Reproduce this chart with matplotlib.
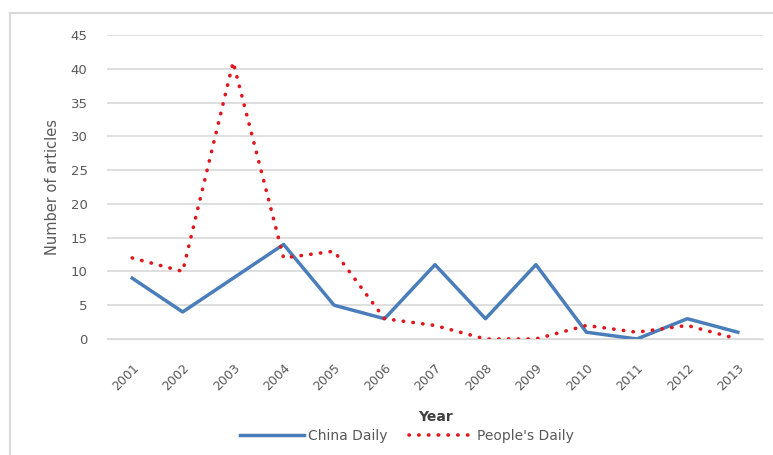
import matplotlib
matplotlib.use("Agg")
import matplotlib.pyplot as plt
from matplotlib.patches import Rectangle

# Article counts per year
years = ["2001", "2002", "2003", "2004", "2005", "2006", "2007",
         "2008", "2009", "2010", "2011", "2012", "2013"]
china_daily = [9, 4, 9, 14, 5, 3, 11, 3, 11, 1, 0, 3, 1]
peoples_daily = [12, 10, 41, 12, 13, 3, 2, 0, 0, 2, 1, 2, 0]

plt.rcParams['font.family'] = ['DejaVu Sans']

fig = plt.figure(figsize=(7.73, 4.55), dpi=100)
ax = fig.add_axes([0.1384, 0.255, 0.8487, 0.668])

# light frame around the whole chart (runs off the right and bottom edges)
fig.patches.append(Rectangle((10 / 773, -10 / 455), 780 / 773, 452 / 455,
                             transform=fig.transFigure, fill=False,
                             edgecolor='#d9d9d9', linewidth=1.5))

x = list(range(len(years)))
ax.plot(x, china_daily, color='#4a7ebb', linewidth=2.5, label='China Daily')
ax.plot(x, peoples_daily, color='#e0161b', linewidth=2.6, linestyle=(0, (0.1, 2.6)),
        dash_capstyle='round', label="People's Daily")

ax.set_xlim(-0.5, len(years) - 0.5)
ax.set_ylim(0, 45)
ax.set_yticks(range(0, 46, 5))
ax.set_xticks(x)
ax.set_xticklabels(years, rotation=45, ha='right', rotation_mode='anchor')
ax.tick_params(axis='both', length=0, labelcolor='#595959')
ax.tick_params(axis='x', labelsize=9, pad=16)
ax.tick_params(axis='y', labelsize=9.5, pad=14)

ax.grid(axis='y', color='#d9d9d9', linewidth=1.2)
ax.set_axisbelow(True)
for s in ['top', 'right', 'left']:
    ax.spines[s].set_visible(False)
ax.spines['bottom'].set_color('#d9d9d9')

ax.set_ylabel('Number of articles', fontsize=10.5, color='#595959', va='center')
ax.yaxis.set_label_coords(-0.0838, 0.5)
ax.set_xlabel('Year', fontsize=10, fontweight='bold', color='#404040', va='center')
ax.xaxis.set_label_coords(0.5, -0.2566)

fig.legend(loc='center', bbox_to_anchor=(407 / 773, 1 - 436 / 455), ncol=2, frameon=False,
           fontsize=10, labelcolor='#595959', handlelength=4.6, handletextpad=0.3,
           columnspacing=1.6)

fig.savefig('out.png', dpi=100)
